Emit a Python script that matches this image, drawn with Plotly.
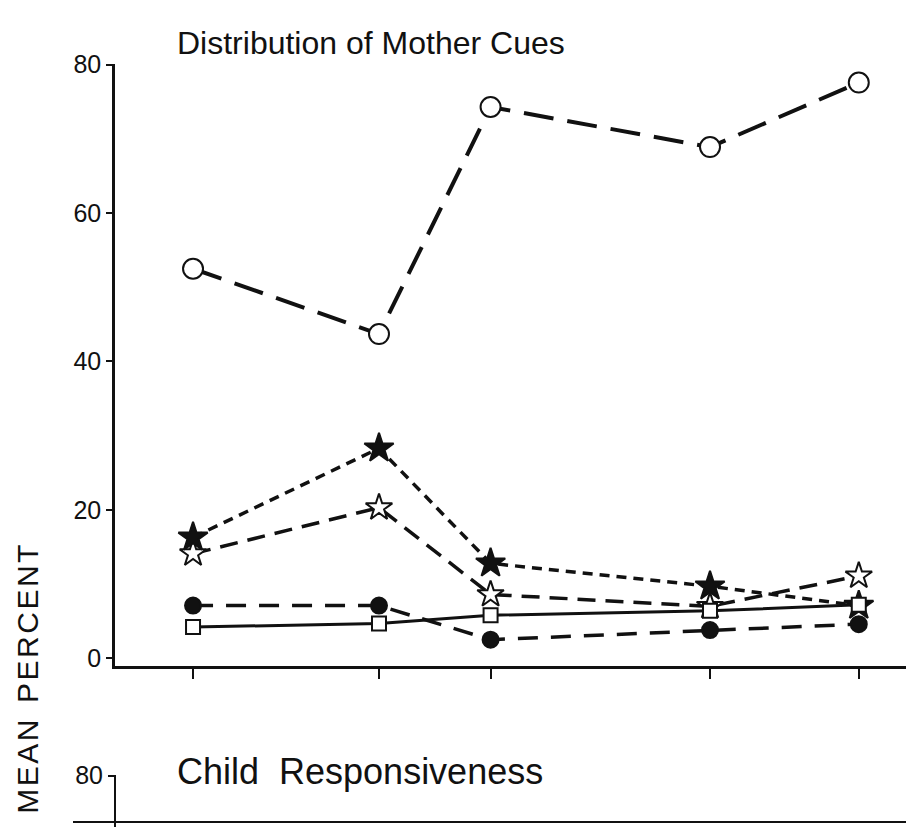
import plotly.graph_objects as go

# ---- data ----
visit = [1, 2, 2.6, 3.78, 4.58]          # horizontal positions of the five measurement points
open_circle = [52.5, 43.7, 74.3, 68.9, 77.6]
filled_star = [16.3, 28.3, 12.8, 9.7, 7.1]
open_star = [14.1, 20.3, 8.6, 7.0, 11.1]
filled_circle = [7.1, 7.1, 2.5, 3.8, 4.6]
open_square = [4.2, 4.7, 5.8, 6.4, 7.2]
y_ticks = [0, 20, 40, 60, 80]
title_top = "Distribution of Mother Cues"
title_bottom = "Child  Responsiveness"
y_title = "\u200a".join("MEAN") + "  " + "\u200a".join("PERCENT")

FONT = "Liberation Sans, Arial, Helvetica, sans-serif"
BLACK = "#111111"

fig = go.Figure()

def add(yvals, symbol, size, fill, dash, lw):
    fig.add_trace(go.Scatter(
        x=visit, y=yvals, mode="lines+markers",
        line=dict(color=BLACK, width=lw, dash=dash),
        marker=dict(symbol=symbol, size=size, color=fill,
                    line=dict(color=BLACK, width=2)),
        showlegend=False, cliponaxis=False,
    ))

add(filled_circle, "circle", 16, BLACK, "20px,13px", 3.5)
add(open_star, "star", 20, "white", "18px,10px", 3.5)
add(filled_star, "star", 22, BLACK, "10px,7px", 3.5)
add(open_circle, "circle", 20, "white", "30px,14px", 4)
add(open_square, "square", 14, "white", "solid", 3)

fig.update_layout(
    width=914, height=827,
    margin=dict(l=0, r=0, t=0, b=0),
    paper_bgcolor="white", plot_bgcolor="white",
    font=dict(family=FONT, color=BLACK),
    xaxis=dict(domain=[0.117, 1.0], range=[0.58, 4.92],
               showgrid=False, zeroline=False,
               showline=True, linecolor=BLACK, linewidth=2.5,
               tickmode="array", tickvals=visit, showticklabels=False,
               ticks="outside", ticklen=10, tickwidth=2, tickcolor=BLACK,
               anchor="y"),
    yaxis=dict(domain=[0.2019, 0.948], range=[-1.05, 80.1],
               showgrid=False, zeroline=False,
               showline=True, linecolor=BLACK, linewidth=2.5,
               tickmode="array", tickvals=y_ticks,
               ticks="outside", ticklen=6, tickwidth=2, tickcolor=BLACK,
               tickfont=dict(size=25, family=FONT, color=BLACK),
               anchor="x"),
    # lower panel (only its top is visible)
    xaxis2=dict(domain=[0.071, 1.0], range=[0, 1], anchor="free", position=0.0085,
                showgrid=False, zeroline=False, showline=True,
                linecolor=BLACK, linewidth=1.5, showticklabels=False, ticks=""),
    yaxis2=dict(domain=[0.0, 0.0665], range=[72.8, 80.05], anchor="free",
                position=0.117,
                showgrid=False, zeroline=False, showline=True,
                linecolor=BLACK, linewidth=2,
                tickmode="array", tickvals=[80],
                ticks="outside", ticklen=6, tickwidth=2, tickcolor=BLACK,
                tickfont=dict(size=25, family=FONT, color=BLACK)),
    annotations=[
        dict(text=title_top, x=0.397, y=0.974, xref="paper", yref="paper",
             xanchor="center", yanchor="middle", showarrow=False,
             font=dict(size=32, family=FONT, color=BLACK)),
        dict(text=title_bottom, x=0.385, y=0.071, xref="paper", yref="paper",
             xanchor="center", yanchor="middle", showarrow=False,
             font=dict(size=36, family=FONT, color=BLACK)),
        dict(text=y_title, x=0.022, y=0.185, xref="paper", yref="paper",
             xanchor="center", yanchor="middle", showarrow=False, textangle=-90,
             font=dict(size=30, family=FONT, color=BLACK)),
    ],
)

# dummy trace so the lower axes are drawn
fig.add_trace(go.Scatter(x=[None], y=[None], xaxis="x2", yaxis="y2",
                         showlegend=False, hoverinfo="skip"))

fig.write_html("out.html")
